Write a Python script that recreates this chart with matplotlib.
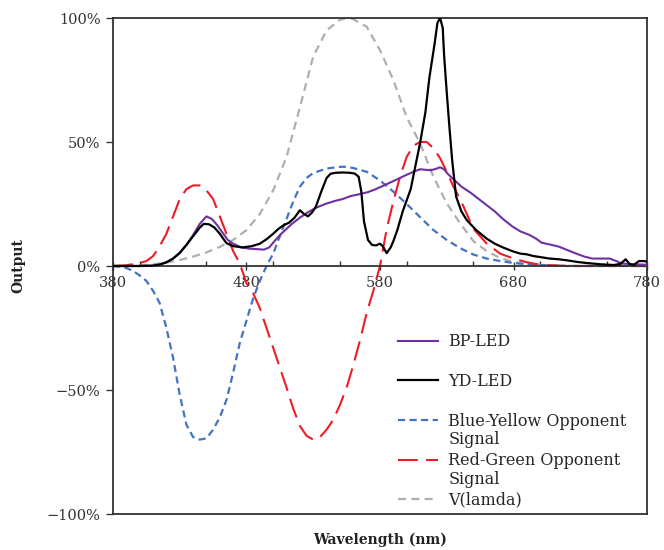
import matplotlib
matplotlib.use("Agg")
import matplotlib.pyplot as plt
from matplotlib.ticker import MultipleLocator, FuncFormatter

# ---------------- data ----------------
bp_wl = [380, 410, 415, 420, 425, 430, 435, 440, 445, 450, 454, 458, 462, 466, 470, 476, 482, 488,
         493, 497, 501, 506, 510, 514, 520, 527, 533, 539, 546, 552, 558, 565, 571, 576, 581, 587,
         593, 600, 606, 610, 614, 618, 622, 625, 628, 631, 636, 641, 648, 654, 660, 666, 672, 679,
         685, 692, 697, 701, 707, 714, 720, 727, 733, 739, 746, 752, 757, 761, 770, 780]
bp_val = [0, 0, 0.005, 0.015, 0.03, 0.055, 0.085, 0.125, 0.17, 0.20, 0.19, 0.165, 0.135, 0.105, 0.09,
          0.075, 0.07, 0.068, 0.066, 0.075, 0.10, 0.13, 0.15, 0.17, 0.195, 0.22, 0.237, 0.25, 0.262,
          0.27, 0.282, 0.29, 0.298, 0.308, 0.32, 0.335, 0.35, 0.368, 0.382, 0.39, 0.388, 0.386,
          0.392, 0.398, 0.39, 0.37, 0.345, 0.32, 0.295, 0.27, 0.245, 0.22, 0.19, 0.16, 0.14, 0.125,
          0.11, 0.094, 0.087, 0.078, 0.065, 0.05, 0.038, 0.03, 0.03, 0.03, 0.02, 0.01, 0.007, 0.005]

yd_wl = [380, 400, 410, 415, 420, 425, 430, 435, 440, 445, 448, 452, 456, 460, 465, 470, 477, 484,
         490, 495, 500, 504, 508, 512, 516, 520, 523, 526, 529, 532, 536, 540, 543, 547, 552,
         557, 561, 564, 566, 568, 571, 574, 577, 580, 582, 585, 588, 590, 593, 597, 600, 603, 606,
         610, 614, 617, 621, 623, 625, 627, 628, 630, 632, 634, 637, 641, 645, 652, 660,
         666, 672, 679, 685, 690, 695, 700, 707, 714, 720, 727, 733, 739, 745, 755, 760, 764, 767,
         770, 774, 778, 780]
yd_val = [0, 0, 0.002, 0.006, 0.015, 0.03, 0.052, 0.085, 0.12, 0.155, 0.17, 0.168, 0.155, 0.13,
          0.092, 0.08, 0.075, 0.08, 0.09, 0.108, 0.13, 0.15, 0.165, 0.175, 0.195, 0.225, 0.21,
          0.2, 0.215, 0.24, 0.30, 0.355, 0.372, 0.376, 0.377, 0.376, 0.373, 0.36, 0.30, 0.18,
          0.105, 0.085, 0.083, 0.09, 0.08, 0.052, 0.075, 0.10, 0.145, 0.22, 0.265, 0.31, 0.39,
          0.495, 0.62, 0.76, 0.90, 0.98, 1.0, 0.96, 0.85, 0.70, 0.56, 0.43, 0.28, 0.22, 0.185,
          0.145, 0.11, 0.09, 0.075, 0.06, 0.05, 0.047, 0.04, 0.036, 0.03, 0.027, 0.023, 0.017, 0.013,
          0.01, 0.007, 0.004, 0.008, 0.027, 0.008, 0.004, 0.02, 0.02, 0.017]

by_wl = [380, 385, 390, 395, 400, 405, 410, 415, 420, 425, 430, 435, 440, 445, 450, 455, 460, 465,
         470, 475, 480, 485, 490, 495, 500, 505, 510, 515, 520, 525, 530, 540, 550, 555, 560, 570,
         580, 590, 600, 610, 620, 630, 640, 650, 660, 670, 680, 690, 700, 720, 780]
by_val = [0, -0.003, -0.008, -0.02, -0.038, -0.06, -0.10, -0.15, -0.25, -0.37, -0.52, -0.64, -0.69,
          -0.70, -0.695, -0.66, -0.61, -0.54, -0.43, -0.31, -0.22, -0.13, -0.06, 0.0, 0.05, 0.12,
          0.19, 0.26, 0.32, 0.355, 0.375, 0.393, 0.40, 0.40, 0.395, 0.38, 0.345, 0.30, 0.25, 0.197,
          0.145, 0.105, 0.072, 0.046, 0.03, 0.02, 0.012, 0.007, 0.004, 0.0, 0.0]

rg_wl = [380, 390, 400, 405, 410, 415, 420, 425, 430, 435, 440, 445, 450, 455, 460, 465, 470, 475,
         480, 485, 490, 495, 500, 505, 510, 515, 520, 525, 530, 535, 540, 545, 550, 555, 560, 565,
         570, 575, 580, 585, 590, 595, 600, 605, 610, 615, 620, 625, 630, 635, 640, 645, 650, 660,
         670, 680, 690, 700, 720, 780]
rg_val = [0, 0.003, 0.012, 0.02, 0.04, 0.08, 0.13, 0.20, 0.27, 0.31, 0.325, 0.325, 0.305, 0.27,
          0.20, 0.13, 0.06, 0.01, -0.07, -0.11, -0.17, -0.25, -0.33, -0.41, -0.49, -0.575, -0.645,
          -0.685, -0.70, -0.69, -0.66, -0.62, -0.56, -0.49, -0.40, -0.30, -0.19, -0.10, 0.0, 0.15,
          0.26, 0.36, 0.44, 0.485, 0.50, 0.50, 0.475, 0.435, 0.38, 0.32, 0.27, 0.21, 0.15, 0.09,
          0.05, 0.03, 0.015, 0.005, 0.0, 0.0]

v_wl = [380, 390, 400, 410, 420, 430, 440, 450, 460, 470, 480, 490, 500, 510, 520, 530, 540, 550,
        555, 560, 570, 580, 590, 600, 610, 620, 630, 640, 650, 660, 670, 680, 690, 700, 710, 720,
        730, 740, 750, 760, 770, 780]
v_val = [0.0, 0.001, 0.003, 0.007, 0.014, 0.024, 0.038, 0.055, 0.077, 0.105, 0.145, 0.21, 0.305,
         0.44, 0.64, 0.845, 0.95, 0.993, 1.0, 0.995, 0.965, 0.87, 0.75, 0.60, 0.495, 0.36, 0.253,
         0.172, 0.10, 0.06, 0.032, 0.017, 0.008, 0.004, 0.002, 0.001, 0.0005, 0.0003, 0.0001,
         0.0001, 0.0, 0.0]

labels = ["BP-LED", "YD-LED", "Blue-Yellow Opponent", "Red-Green Opponent", "V(lamda)"]
x_ticks = [380, 480, 580, 680, 780]
y_ticks = [-1.0, -0.5, 0.0, 0.5, 1.0]

# ---------------- figure ----------------
SERIF = ["DejaVu Serif"]
fig = plt.figure(figsize=(6.64, 5.5), dpi=100)
ax = fig.add_axes([113 / 664, 1 - 514 / 550, (647 - 113) / 664, (514 - 18) / 550])

l1, = ax.plot(bp_wl, bp_val, color="#7030A0", lw=1.5, zorder=3)
l2, = ax.plot(yd_wl, yd_val, color="black", lw=1.6, zorder=4)
l3, = ax.plot(by_wl, by_val, color="#4472C4", lw=1.6, linestyle=(0, (3.2, 2.0)), zorder=2)
l4, = ax.plot(rg_wl, rg_val, color="#EE1C25", lw=1.5, linestyle=(0, (9.5, 4.0)), zorder=2)
l5, = ax.plot(v_wl, v_val, color="#AFAFAF", lw=1.6, linestyle=(0, (3.6, 2.4)), zorder=1)

ax.set_xlim(380, 780)
ax.set_ylim(-1.0, 1.0)

for s in ["left", "right", "top", "bottom"]:
    ax.spines[s].set_color("#333333")
    ax.spines[s].set_linewidth(1.3)
ax.spines["bottom"].set_position(("data", 0))
ax.axhline(-1.0, color="#333333", lw=1.3, clip_on=False, zorder=5)

ax.set_xticks(x_ticks)
ax.xaxis.set_minor_locator(MultipleLocator(50))
ax.set_yticks(y_ticks)
ax.yaxis.set_major_formatter(FuncFormatter(lambda v, p: ("\u2212" if v < 0 else "") + f"{abs(v) * 100:.0f}%"))
ax.tick_params(axis="x", which="major", direction="inout", length=6, width=1.0, color="#333333",
               labelsize=10.5, labelcolor="#333333", pad=4)
ax.tick_params(axis="x", which="minor", direction="in", length=3.5, width=1.0, color="#333333")
ax.tick_params(axis="y", which="major", direction="out", length=5, width=1.0, color="#333333",
               labelsize=10.5, labelcolor="#333333", pad=4)
for t in ax.get_xticklabels() + ax.get_yticklabels():
    t.set_family(SERIF)

ax.set_xlabel("Wavelength (nm)", family=SERIF, fontweight="bold", fontsize=10, color="#222222")
ax.xaxis.set_label_coords(0.5, -0.038)
ax.set_ylabel("Output", family=SERIF, fontweight="bold", fontsize=10, color="#222222")
ax.yaxis.set_label_coords(-0.165, 0.5)

leg = ax.legend([l1, l2, l3, l4, l5], labels, loc="center left",
                bbox_to_anchor=((398 - 113) / 534, (514 - 421) / 496), frameon=False,
                prop={"family": SERIF, "size": 11.5}, handlelength=2.5, handletextpad=0.65,
                labelspacing=1.42, borderpad=0, borderaxespad=0)
for t in leg.get_texts():
    t.set_color("#262626")

fig.canvas.draw()
inv = ax.transAxes.inverted()
for i in (2, 3):
    bb = leg.get_texts()[i].get_window_extent()
    x0, y0 = inv.transform((bb.x0, bb.y0))
    ax.text(x0, y0 - 0.003, "Signal", transform=ax.transAxes, ha="left", va="top",
            family=SERIF, fontsize=11.5, color="#262626")

fig.savefig("out.png", dpi=100)
